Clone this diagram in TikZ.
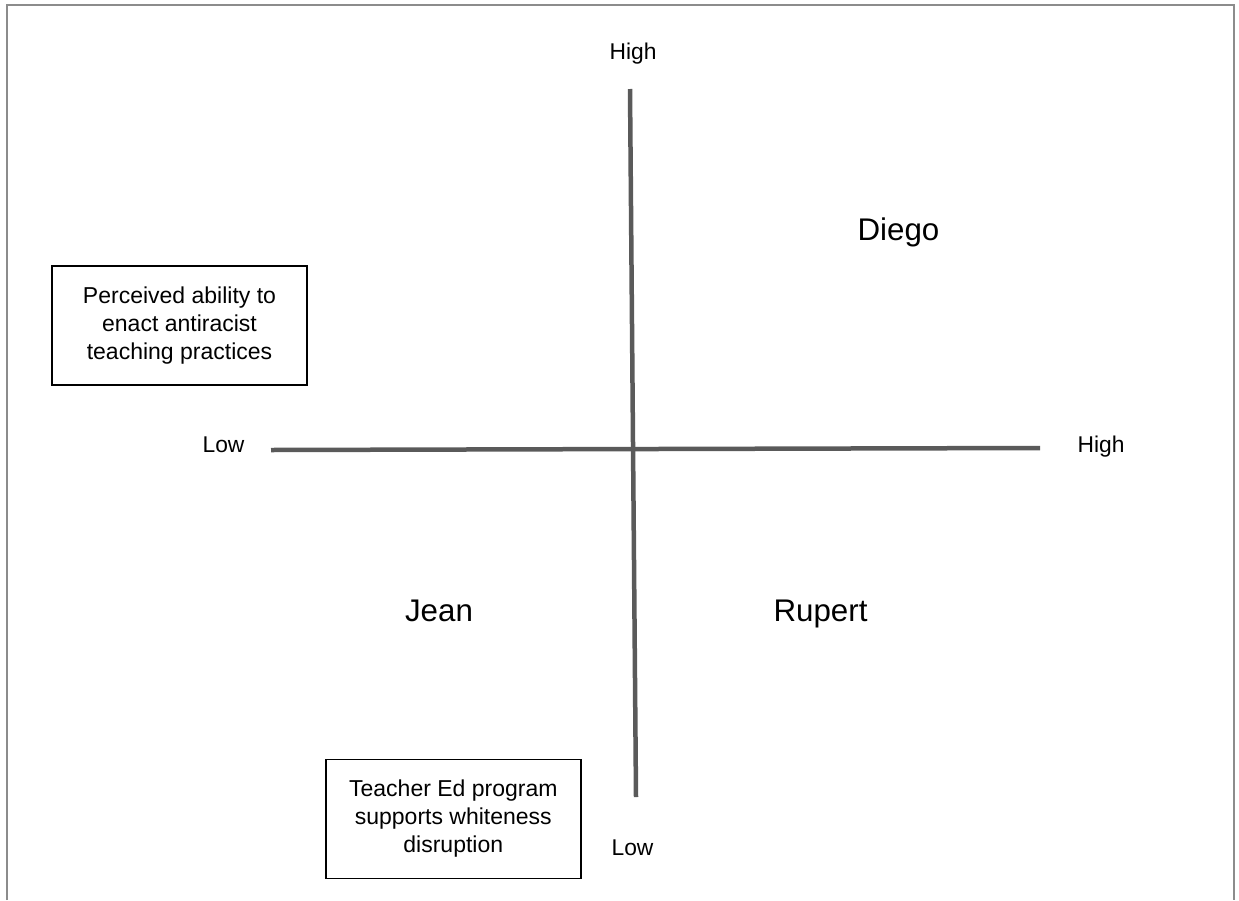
\documentclass[tikz,border=0pt]{standalone}
\usepackage{fontspec}
\setmainfont{Liberation Sans}
\definecolor{axisgray}{HTML}{5A5A5A}
\definecolor{framegray}{HTML}{8C8C8C}
\begin{document}
\begin{tikzpicture}[x=1pt,y=-1pt,
  axisline/.style={line width=4.5pt,color=axisgray},
  framebox/.style={line width=1.4pt,color=framegray},
  labelbox/.style={draw=black,line width=1.4pt,align=center,inner sep=0pt,
    minimum width=255pt,minimum height=119pt,font=\fontsize{23}{28}\selectfont},
  endlabel/.style={anchor=base,font=\fontsize{22.8}{26}\selectfont},
  namelabel/.style={anchor=base,font=\fontsize{31.3}{36}\selectfont}]
\useasboundingbox (0,0) rectangle (1239,900);
\draw[framebox] (7,900) -- (7,5) -- (1234,5) -- (1234,900);
% axes
\coordinate (vt) at (630,89);
\coordinate (vb) at (636,797);
\coordinate (hl) at (271,450);
\coordinate (hr) at (1040,448);
\draw[axisline] (vt) -- (vb);
\draw[axisline] (hl) -- (hr);
% axis end labels
\node[endlabel] (hightop) at (633,59) {High};
\node[endlabel] (lowbottom) at (632.5,855) {Low};
\node[endlabel] (lowleft) at (223.5,452.5) {Low};
\node[endlabel] (highright) at (1101,452.5) {High};
% axis title boxes
\node[labelbox] (ability) at (179.5,325.3) {Perceived ability to\\enact antiracist\\teaching practices};
\node[labelbox] (program) at (453.3,818.8) {Teacher Ed program\\supports whiteness\\disruption};
% names
\node[namelabel] (diego) at (898.5,240.5) {Diego};
\node[namelabel] (jean) at (439,621) {Jean};
\node[namelabel] (rupert) at (820.5,621) {Rupert};
\end{tikzpicture}
\end{document}
